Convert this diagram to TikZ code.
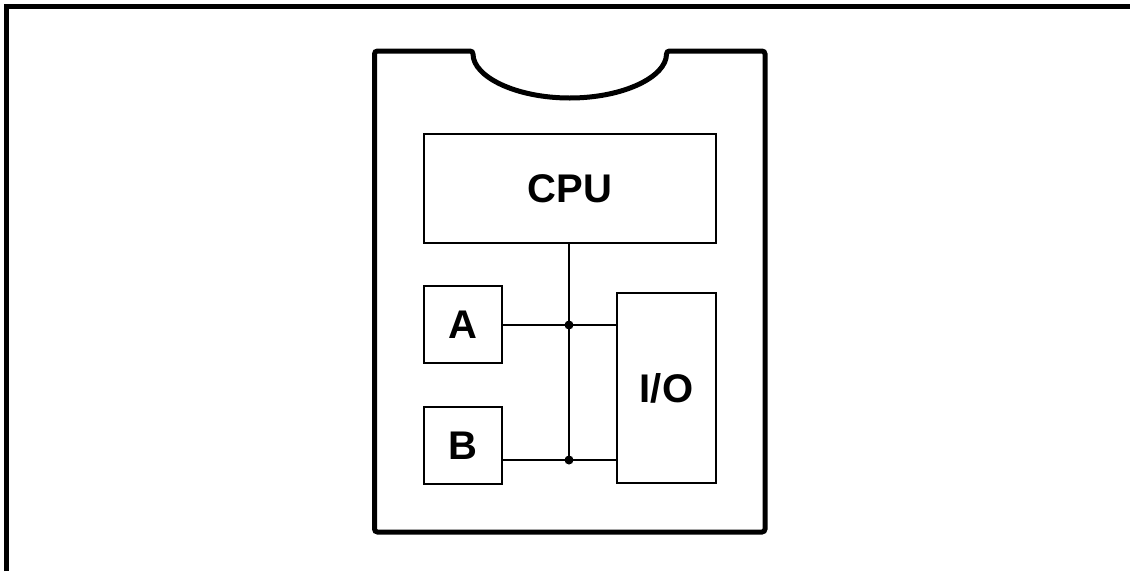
\documentclass[tikz,border=0pt]{standalone}
\usepackage{fontspec}
\setmainfont{Liberation Sans}
\begin{document}
\begin{tikzpicture}[x=1pt,y=-1pt,
  blk/.style={draw,line width=2.6pt,inner sep=0pt,font=\fontsize{40}{44}\selectfont\bfseries},
  wire/.style={line width=1.8pt},
  dot/.style={circle,fill,inner sep=0pt,minimum size=9pt}]
\useasboundingbox (0,0) rectangle (1130,571);
% outer frame
\draw[line width=4.5pt] (6.5,571) -- (6.5,6.5) -- (1130,6.5);
% card
\draw[line width=5pt,rounded corners=3pt] (374.5,51) -- (473,51) arc[start angle=180,end angle=0,x radius=96.75,y radius=47] -- (765,51) -- (765,532) -- (374.5,532) -- cycle;
% blocks
\node[blk,minimum width=292pt,minimum height=109pt] (cpu) at (570,188.5) {CPU};
\node[blk,minimum width=78pt,minimum height=77pt] (a) at (463,324.5) {A};
\node[blk,minimum width=78pt,minimum height=77pt] (b) at (463,445.5) {B};
\node[blk,minimum width=99pt,minimum height=190pt] (io) at (666.5,388) {I/O};
% bus
\coordinate (ja) at (569,325);
\coordinate (jb) at (569,460);
\draw[wire] (cpu.south -| ja) -- (jb);
\draw[wire] (a.east |- ja) -- (io.west |- ja);
\draw[wire] (b.east |- jb) -- (io.west |- jb);
\node[dot] at (ja) {};
\node[dot] at (jb) {};
\end{tikzpicture}
\end{document}
